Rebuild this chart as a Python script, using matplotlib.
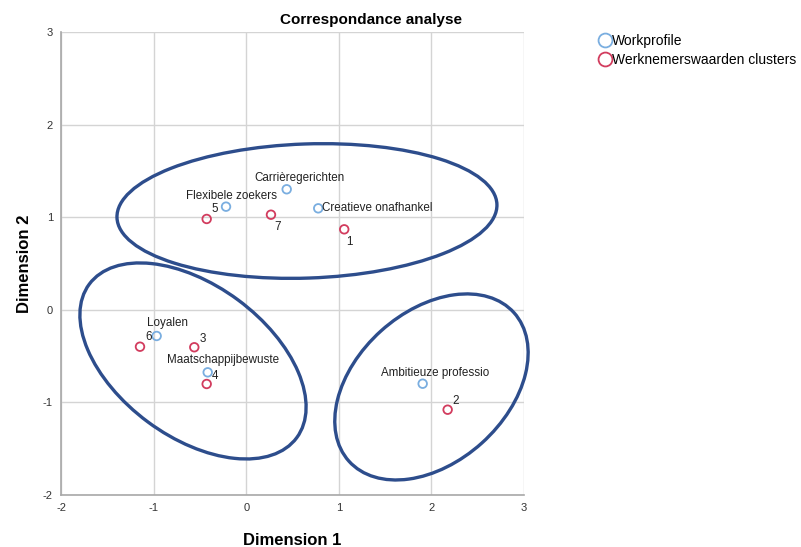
import matplotlib
matplotlib.use("Agg")
import matplotlib.pyplot as plt
from matplotlib.patches import Ellipse
from matplotlib.lines import Line2D

plt.rcParams['font.family'] = ['Liberation Sans', 'DejaVu Sans']
plt.rcParams['axes.unicode_minus'] = False

# Column points: work profiles
profile_labels = ["Carrièregerichten", "Flexibele zoekers", "Creatieve onafhankel",
                  "Loyalen", "Maatschappijbewuste", "Ambitieuze professio"]
profile_x = [0.437, -0.219, 0.778, -0.969, -0.417, 1.907]
profile_y = [1.305, 1.117, 1.099, -0.281, -0.674, -0.797]

# Row points: employee value clusters
cluster_labels = ["5", "7", "1", "6", "3", "4", "2"]
cluster_x = [-0.428, 0.267, 1.059, -1.149, -0.562, -0.428, 2.177]
cluster_y = [0.984, 1.030, 0.872, -0.397, -0.403, -0.800, -1.078]

# Grouping ellipses (centre x, centre y, width, height, angle)
group_cx = [0.656, -0.576, 2.002]
group_cy = [1.070, -0.551, -0.832]
group_w = [4.11, 2.79, 2.40]
group_h = [1.45, 1.64, 1.63]
group_angle = [2.0, -36.5, 42.0]

ticks = [-2, -1, 0, 1, 2, 3]

blue = "#7aaee0"
red = "#d23c5e"
navy = "#2d4d8c"

fig = plt.figure(figsize=(8.01, 5.47), dpi=100)
ax = fig.add_axes([0.0765, 0.0951, 0.5774, 0.8455])
ax.set_xlim(-2, 3)
ax.set_ylim(-2, 3)
ax.set_xticks(ticks)
ax.set_yticks(ticks)
ax.grid(True, color="#d4d4d4", linewidth=1.0)
ax.set_axisbelow(True)
for side in ("top", "right"):
    ax.spines[side].set_visible(False)
for side in ("left", "bottom"):
    ax.spines[side].set_color("#a8a8a8")
    ax.spines[side].set_linewidth(1.2)
ax.tick_params(length=0, labelsize=8, labelcolor="#333333", pad=6)

for cx, cy, w, h, a in zip(group_cx, group_cy, group_w, group_h, group_angle):
    ax.add_patch(Ellipse((cx, cy), w, h, angle=a, fill=False, clip_on=False,
                         edgecolor=navy, linewidth=2.4, zorder=2))

ax.scatter(profile_x, profile_y, s=38, facecolors="none", edgecolors=blue,
           linewidths=1.3, zorder=3)
ax.scatter(cluster_x, cluster_y, s=38, facecolors="none", edgecolors=red,
           linewidths=1.3, zorder=3)

# Label offsets in points
profile_offsets = [(9, 8), (4, 8), (3, 0), (8, 9), (11, 9), (9, 8)]
profile_ha = ["center", "center", "left", "center", "center", "center"]
for lab, x, y, off, ha in zip(profile_labels, profile_x, profile_y, profile_offsets, profile_ha):
    ax.annotate(lab, (x, y), xytext=off, textcoords="offset points",
                ha=ha, va="center", fontsize=8.4, color="#222222", zorder=4)

cluster_offsets = [(6, 7), (5, -9), (4, -9), (6, 7), (6, 6), (6, 6), (6, 6)]
for lab, x, y, off in zip(cluster_labels, cluster_x, cluster_y, cluster_offsets):
    ax.annotate(lab, (x, y), xytext=off, textcoords="offset points",
                ha="center", va="center", fontsize=8.4, color="#222222", zorder=4)

ax.set_xlabel("Dimension 1", fontsize=12, fontweight="bold", labelpad=14)
ax.set_ylabel("Dimension 2", fontsize=12, fontweight="bold", labelpad=8)

fig.text(371 / 801, 1 - 20 / 547, "Correspondance analyse", ha="center",
         va="center", fontsize=11, fontweight="bold")

handles = [
    Line2D([], [], linestyle="none", marker="o", markersize=10,
           markerfacecolor="none", markeredgecolor=blue, markeredgewidth=1.3),
    Line2D([], [], linestyle="none", marker="o", markersize=10,
           markerfacecolor="none", markeredgecolor=red, markeredgewidth=1.3),
]
fig.legend(handles, ["Workprofile", "Werknemerswaarden clusters"],
           loc="upper left", bbox_to_anchor=(599 / 801, 1 - 34 / 547),
           frameon=False, fontsize=10, handlelength=0.8, handletextpad=0.15,
           labelspacing=0.35, borderaxespad=0, borderpad=0)

fig.savefig("out.png", dpi=100)
